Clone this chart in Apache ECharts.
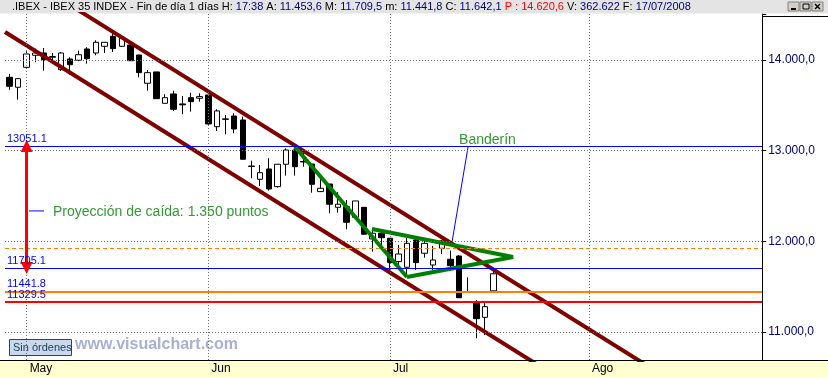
<!DOCTYPE html>
<html><head><meta charset="utf-8">
<script src="https://cdn.jsdelivr.net/npm/echarts@6/dist/echarts.min.js"></script>
<style>html,body{margin:0;padding:0;background:#fff}#c{width:828px;height:378px}</style>
</head><body><div id="c"></div>
<script>
// ---- categories (trading days, incl. empty future days) ----
const dates = [
'2008-04-29','2008-04-30',
'2008-05-02','2008-05-05','2008-05-06','2008-05-07','2008-05-08','2008-05-09',
'2008-05-12','2008-05-13','2008-05-14','2008-05-15','2008-05-16',
'2008-05-19','2008-05-20','2008-05-21','2008-05-22','2008-05-23',
'2008-05-26','2008-05-27','2008-05-28','2008-05-29','2008-05-30',
'2008-06-02','2008-06-03','2008-06-04','2008-06-05','2008-06-06',
'2008-06-09','2008-06-10','2008-06-11','2008-06-12','2008-06-13',
'2008-06-16','2008-06-17','2008-06-18','2008-06-19','2008-06-20',
'2008-06-23','2008-06-24','2008-06-25','2008-06-26','2008-06-27',
'2008-06-30',
'2008-07-01','2008-07-02','2008-07-03','2008-07-04',
'2008-07-07','2008-07-08','2008-07-09','2008-07-10','2008-07-11',
'2008-07-14','2008-07-15','2008-07-16','2008-07-17',
'2008-07-18','2008-07-21','2008-07-22','2008-07-23','2008-07-24','2008-07-25',
'2008-07-28','2008-07-29','2008-07-30','2008-07-31',
'2008-08-01','2008-08-04','2008-08-05','2008-08-06','2008-08-07','2008-08-08',
'2008-08-11','2008-08-12','2008-08-13','2008-08-14','2008-08-15',
'2008-08-18','2008-08-19','2008-08-20','2008-08-21','2008-08-22',
'2008-08-25','2008-08-26','2008-08-27','2008-08-28','2008-08-29'];

// ---- OHLC series ----
const opens  = [13809,13699,13919,14052,14077,14030,13893,14011,13997,14121,14077,14151,14261,14151,14165,14055,13743,13868,13522,13625,13515,13584,13578,13614,13264,13350,13382,13338,12830,12684,12798,12603,12850,13007,12880,12853,12548,12632,12375,12382,12265,12375,12026,12089,12034,11776,11714,12015,11868,11739,11923,11802,11838,11447,11334,11162,11453.6];
const highs  = [13846,13801,14096,14125,14132,14077,14088,14030,14103,14140,14217,14198,14298,14259,14184,14055,13890,13868,13622,13661,13603,13639,13633,13614,13456,13393,13412,13375,12889,12842,12916,12850,13026,13063,12996,12853,12732,12632,12541,12456,12445,12378,12144,12110,12034,11960,12051,12051,12022,11949,12015,11897,11849,11603,11353,11334,11709.5];
const lows   = [13672,13562,13910,13975,13882,13986,13879,13838,13986,13959,14052,14077,14088,14143,13989,13809,13661,13573,13520,13438,13401,13430,13540,13286,13217,13181,13192,12903,12695,12610,12559,12592,12724,12724,12823,12536,12544,12309,12316,12133,12265,12078,11886,11960,11637,11684,11629,11684,11820,11665,11860,11709,11378,11440,10931,10967,11441.8];
const closes = [13710,13794,14066,14077,14003,14038,14077,13948,14058,14014,14195,14195,14125,14243,13992,13860,13860,13573,13584,13456,13505,13540,13596,13294,13438,13346,13239,12905,12826,12757,12577,12850,13007,12823,12875,12629,12585,12409,12409,12210,12445,12078,12089,12040,11765,11860,11978,11765,11978,11794,12004,11731,11378,11445,11147,11279,11642.1];

// ---- tick labels ----
const monthTicks  = ['2008-05-02','2008-06-02','2008-07-01','2008-08-01'];
const monthLabels = ['May','Jun','Jul','Ago'];
const priceTicks  = [11000,12000,13000,14000];

// ---- horizontal levels ----
const levelValues = [13051.1, 11705.1, 11441.8, 11329.5];
const levelColors = ['#0000FF','#0000FF','#FF8000','#FF0000'];
const levelWidths = [1,1,2,2];
const dashedLevel = 11925;
const lastClose = 11642.1;
const levelSpan = [-0.5, 87.03];   // bar-index extent of the drawn level lines
const priceSpan = [10691, 14507];  // price extent of the plot

// ---- drawing annotations (bar index, price) ----
const channelUpper  = [[-0.5, 15054],[87.5, 9809]];
const channelLower  = [[-0.5, 14309],[87.5, 9063]];
const pennantPole   = [[33.03, 13040],[45.97, 11607]];
const pennantBody   = [[41.93, 12136],[58.23, 11827],[45.97, 11607]];
const bannerPointer = [[53.03, 13040],[51.18, 11993]];
const projPointer   = [[2.27, 12335],[4.01, 12335]];
const projArrow     = [2, 13051.1, 11705.1];
const annotTexts    = [
  {value:[51.99, 13118], name:'Banderín'},
  {value:[5.05, 12324], name:'Proyección de caída: 1.350 puntos'}
];

// ---- header info ----
const headerTime = '17:38';
const prevValue = 14620.6;
const volume = 362622;

const FONT = 'Liberation Sans';
function fmtES(v, d){
  const s = Number(v).toFixed(d);
  let parts = s.split('.');
  let ip = parts[0].replace(/\B(?=(\d{3})+(?!\d))/g, '.');
  return parts[1] ? ip + ',' + parts[1] : ip;
}
const n = opens.length - 1;
const lastDate = dates[n].split('-').reverse().join('/');
const headerText =
  '{k|.IBEX - IBEX 35 INDEX - Fin de día 1 días H: }{v|' + headerTime + '}' +
  '{k| A: }{v|' + fmtES(opens[n],1) + '}' +
  '{k| M: }{v|' + fmtES(highs[n],1) + '}' +
  '{k| m: }{v|' + fmtES(lows[n],1) + '}' +
  '{k| C: }{v|' + fmtES(closes[n],1) + '}' +
  '{p| P : ' + fmtES(prevValue,1) + '}' +
  '{k| V: }{v|' + fmtES(volume,0) + '}' +
  '{k| F: }{v|' + lastDate + '}';

const candles = opens.map((o,i)=>[o, closes[i], lows[i], highs[i]]);
const isMonthTick = (i, v) => monthTicks.indexOf(v) >= 0;

const levelLines = levelValues.map((v,i)=>[
  {coord:[levelSpan[0], v], lineStyle:{color:levelColors[i], width:levelWidths[i], type:'solid'},
   label:{show:true, formatter: v.toFixed(1)}},
  {coord:[levelSpan[1], v]}
]);
levelLines.push([
  {coord:[levelSpan[0], dashedLevel], lineStyle:{color:'#FF8000', width:1, type:[4,3]}, label:{show:false}},
  {coord:[levelSpan[1], dashedLevel]}
]);
const gridLines = priceTicks.map(v=>[{coord:[levelSpan[0], v]},{coord:[levelSpan[1], v]}])
  .concat(monthTicks.map(d=>{ const i = dates.indexOf(d); return [{coord:[i, priceSpan[0]]},{coord:[i, priceSpan[1]]}]; }));

const chart = echarts.init(document.getElementById('c'), null, {renderer:'canvas'});
chart.setOption({
  animation:false,
  backgroundColor:'#ffffff',
  textStyle:{fontFamily:FONT},
  grid:{left:5, top:14, width:761.2, height:346},
  xAxis:[
    {type:'category', data:dates, boundaryGap:true, z:5,
     axisLine:{onZero:false, lineStyle:{color:'#000', width:1}},
     axisTick:{alignWithLabel:true, interval:isMonthTick, length:9, lineStyle:{color:'#000'}},
     axisLabel:{interval:isMonthTick, formatter:v=>monthLabels[monthTicks.indexOf(v)], align:'left',
                margin:3, padding:[0,0,0,3], color:'#000', fontSize:12, fontFamily:FONT},
     splitLine:{show:false}},
    {type:'value', min:levelSpan[0], max:87.5, show:false}
  ],
  yAxis:{type:'value', position:'right', offset:-4, min:priceSpan[0], max:priceSpan[1], splitNumber:4, z:5,
    axisLine:{show:true, onZero:false, lineStyle:{color:'#000'}},
    axisTick:{show:true, length:4, lineStyle:{color:'#000'}},
    axisLabel:{margin:6, color:'#000080', fontSize:12, fontFamily:FONT,
               formatter:v=>priceTicks.indexOf(v)>=0 ? fmtES(v,1) : ''},
    splitLine:{show:false}},
  series:[
    {type:'line', name:'Rejilla', xAxisIndex:1, data:[], symbol:'none', silent:true,
     markLine:{silent:true, symbol:['none','none'], label:{show:false},
               lineStyle:{color:'#707070', type:[1,2], width:1},
               data:gridLines}},
    {type:'candlestick', name:'IBEX 35', xAxisIndex:0, yAxisIndex:0, barWidth:6, silent:true,
     data:candles,
     itemStyle:{color:'#ffffff', color0:'#000000', borderColor:'#000000', borderColor0:'#000000',
                borderColorDoji:'#000000', borderWidth:1}},
    {type:'line', name:'Canal superior', xAxisIndex:1, data:channelUpper, symbol:'none', silent:true,
     lineStyle:{color:'#800000', width:4}},
    {type:'line', name:'Canal inferior', xAxisIndex:1, data:channelLower, symbol:'none', silent:true,
     lineStyle:{color:'#800000', width:4},
     markLine:{silent:true, symbol:['none','none'],
               label:{position:'insideStartTop', distance:2, color:'#0000FF', fontSize:11, fontFamily:FONT},
               data:levelLines}},
    {type:'line', name:'Mástil', xAxisIndex:1, data:pennantPole, symbol:'none', silent:true,
     lineStyle:{color:'#008000', width:4},
     markLine:{silent:true, symbol:['triangle','triangle'], symbolSize:12,
               label:{show:false}, lineStyle:{color:'#FF0000', width:3, type:'solid'},
               data:[[{coord:[projArrow[0], projArrow[1]]},{coord:[projArrow[0], projArrow[2]]}]]}},
    {type:'line', name:'Banderín', xAxisIndex:1, data:pennantBody, symbol:'none', silent:true,
     lineStyle:{color:'#008000', width:4}},
    {type:'line', name:'Puntero banderín', xAxisIndex:1, data:bannerPointer, symbol:'none', silent:true,
     lineStyle:{color:'#0000FF', width:1}},
    {type:'line', name:'Puntero proyección', xAxisIndex:1, data:projPointer, symbol:'none', silent:true,
     lineStyle:{color:'#0000FF', width:1},
     markLine:{silent:true, symbol:['none','none'],
               lineStyle:{opacity:0},
               label:{show:true, position:'end', distance:1, formatter:'{a|‹}{b|' + fmtES(lastClose,1) + '}',
                      rich:{a:{color:'#000', fontSize:11, fontFamily:FONT, padding:[0,2,0,0]},
                            b:{color:'#000', fontSize:12, fontFamily:FONT, backgroundColor:'#FFFFC0',
                               borderColor:'#000', borderWidth:1, padding:[2,2,1,2]}}},
               data:[[{coord:[levelSpan[0], lastClose]},{coord:[levelSpan[1], lastClose]}]]}},
    {type:'scatter', name:'Textos', xAxisIndex:1, symbolSize:0, silent:true, data:annotTexts,
     label:{show:true, position:'right', distance:0, formatter:'{b}', color:'#008000', fontSize:14, fontFamily:FONT}}
  ],
  graphic:[
    {type:'rect', silent:true, shape:{x:0,y:0,width:828,height:13.5}, style:{fill:'#E4E4E4'}},
    {type:'text', silent:true, x:12, y:7, style:{text:headerText, font:'11px "Liberation Sans"', verticalAlign:'middle', fill:'#000',
      rich:{k:{fill:'#000'}, v:{fill:'#000080'}, p:{fill:'#FF0000'}}}},
    {type:'rect', silent:true, shape:{x:788,y:2,width:11,height:9}, style:{fill:'#D4D0C8', stroke:'#808080'}},
    {type:'rect', silent:true, shape:{x:800,y:2,width:11,height:9}, style:{fill:'#D4D0C8', stroke:'#808080'}},
    {type:'rect', silent:true, shape:{x:812,y:2,width:11,height:9}, style:{fill:'#D4D0C8', stroke:'#808080'}},
    {type:'line', silent:true, shape:{x1:791,y1:9,x2:796,y2:9}, style:{stroke:'#000', lineWidth:2}},
    {type:'rect', silent:true, shape:{x:803,y:4,width:6,height:5}, style:{fill:'none', stroke:'#000', lineWidth:1}},
    {type:'line', silent:true, shape:{x1:815,y1:4,x2:820,y2:9}, style:{stroke:'#000', lineWidth:1.5}},
    {type:'line', silent:true, shape:{x1:820,y1:4,x2:815,y2:9}, style:{stroke:'#000', lineWidth:1.5}},
    {type:'line', silent:true, shape:{x1:762,y1:16.5,x2:828,y2:16.5}, style:{stroke:'#000', lineWidth:1}},
    {type:'rect', silent:true, shape:{x:0,y:360,width:828,height:18}, style:{fill:'#FFFFD0'}},
    {type:'line', silent:true, shape:{x1:0,y1:360.5,x2:828,y2:360.5}, style:{stroke:'#000', lineWidth:1}},
    {type:'rect', silent:true, shape:{x:9.5,y:339.5,width:62,height:16}, style:{fill:'#C9D8EC', stroke:'#404040', lineWidth:1}},
    {type:'text', silent:true, x:13, y:348, style:{text:'Sin órdenes', font:'11px "Liberation Sans"', verticalAlign:'middle', fill:'#1F4060'}},
    {type:'text', silent:true, x:75, y:345, style:{text:'www.visualchart.com', font:'bold 16px "Liberation Sans"', verticalAlign:'middle', fill:'#A8B0D4'}}
  ]
});
</script>
</body></html>
